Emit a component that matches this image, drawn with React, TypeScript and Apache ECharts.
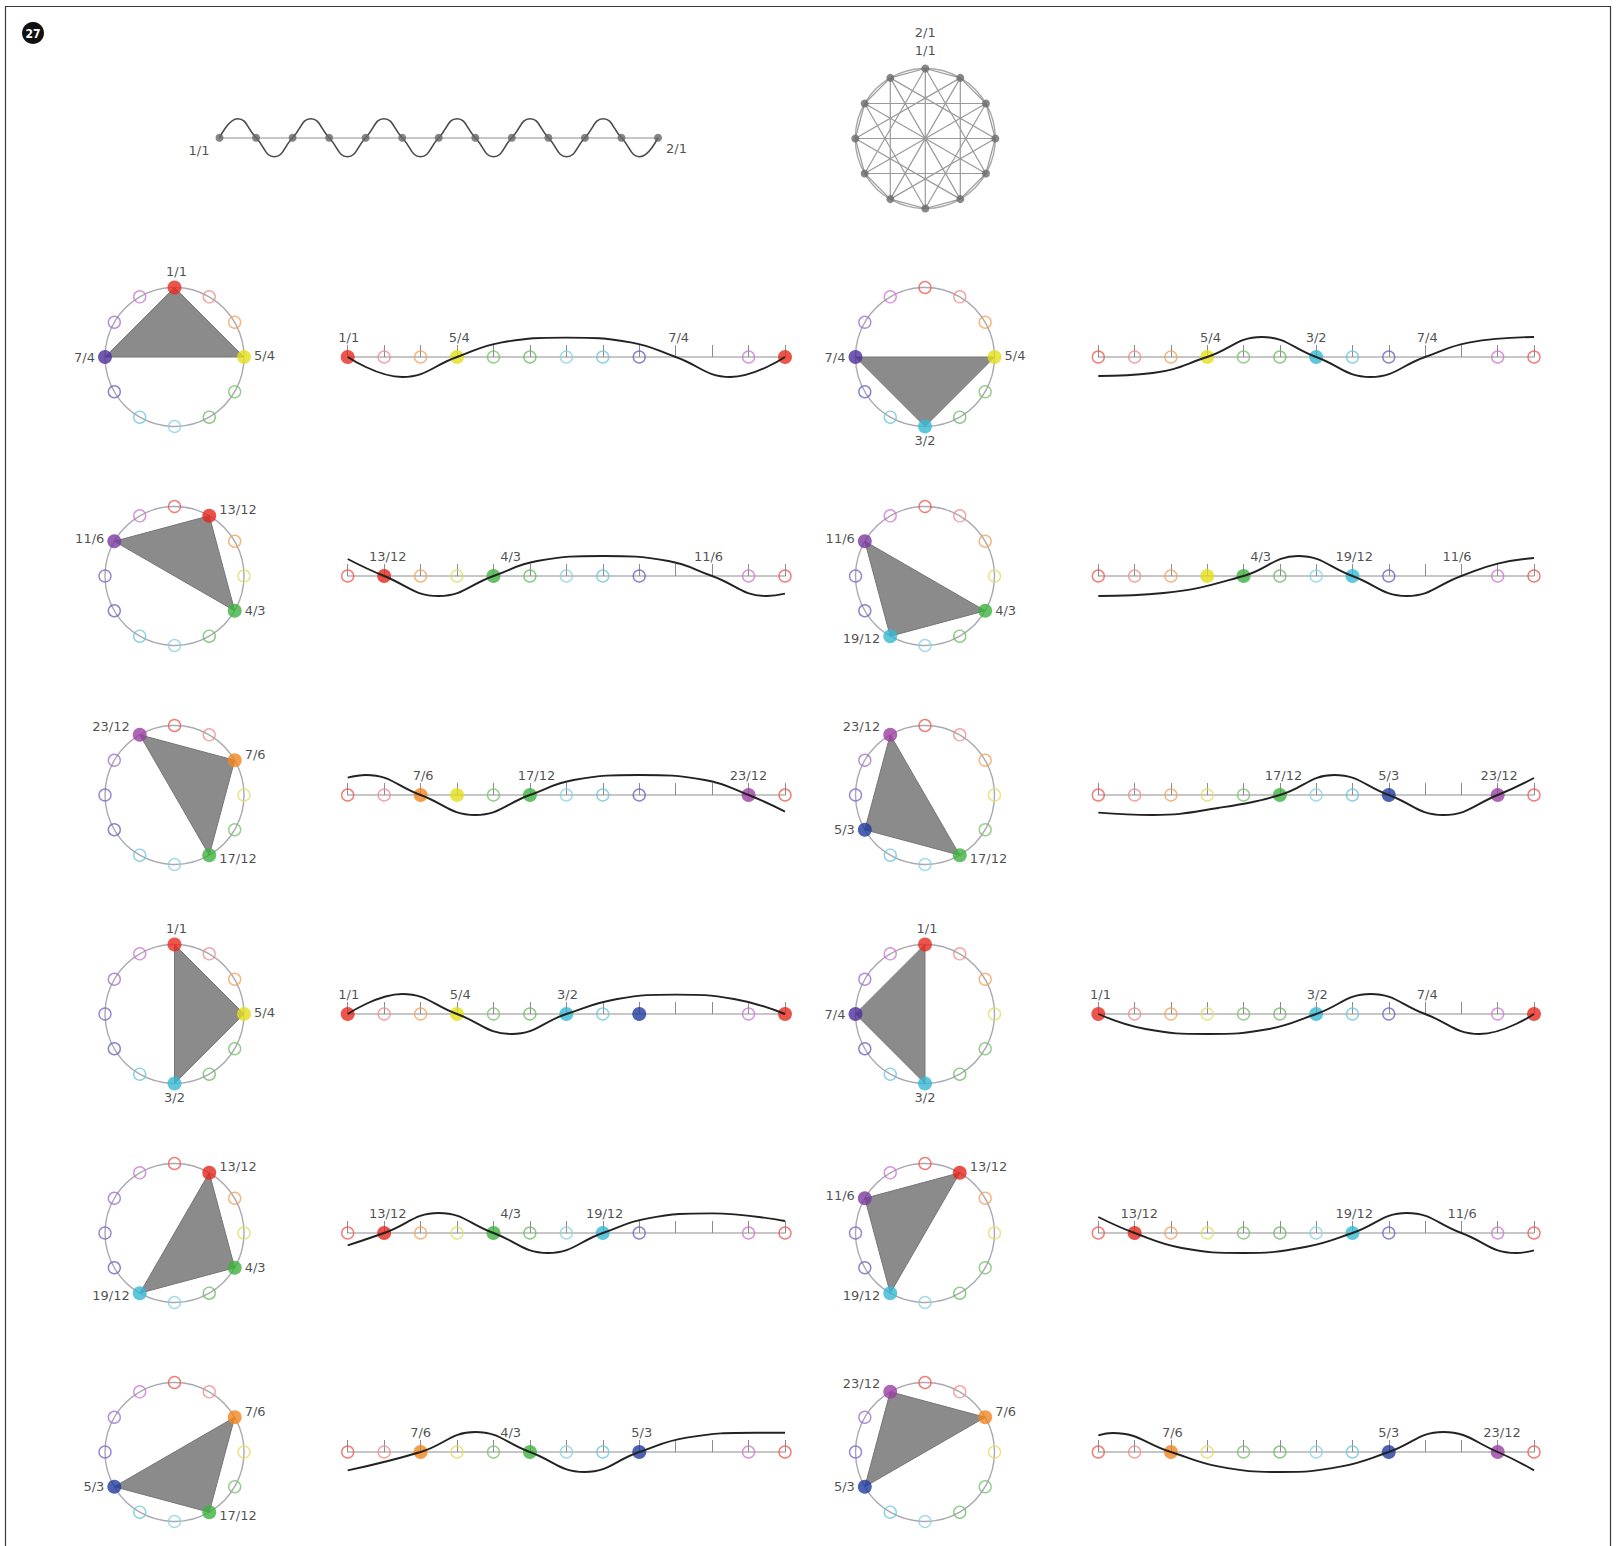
import React, { useEffect, useRef } from 'react';
import * as echarts from 'echarts';

// ---------- data ----------
const RATIOS = ['1/1', '13/12', '7/6', '5/4', '4/3', '17/12', '3/2', '19/12', '5/3', '7/4', '11/6', '23/12', '2/1'];

// outline colours of the hollow markers, one per step of the octave
const RING_COLORS = ['#ef5a52', '#f08c8c', '#f4a35c', '#e2dc66', '#7cc26e', '#6cbc62', '#8ad2e2', '#6cc6dc', '#6a64c6', '#8466c4', '#a372cf', '#cc78d2', '#ef5a52'];
// fill colours of the highlighted notes
const DOT_COLORS = ['#e62a1f', '#e3261c', '#f08421', '#e4df1c', '#3fb23f', '#3fb23f', '#36b9d2', '#36b9d2', '#213b9d', '#502e9b', '#7a3b9e', '#9a3fa1', '#e62a1f'];

const CIRCLE_STEPS = [0, 1, 2, 3, 4, 5, 6, 7, 8, 9, 10, 11];
const LINE_STEPS = [0, 1, 2, 3, 4, 5, 6, 7, 8, 9, 10, 11, 12];
const LINE_RING_STEPS = [0, 1, 2, 3, 4, 5, 6, 7, 8, 11, 12];

// equal-tempered overview: sine through the 13 notes, interval polygon
const TOP_WAVE = [[0, 0], [0.5, 1], [1, 0], [1.5, -1], [2, 0], [2.5, 1], [3, 0], [3.5, -1], [4, 0], [4.5, 1], [5, 0], [5.5, -1], [6, 0], [6.5, 1], [7, 0], [7.5, -1], [8, 0], [8.5, 1], [9, 0], [9.5, -1], [10, 0], [10.5, 1], [11, 0], [11.5, -1], [12, 0]];
const TOP_CHORD_STEPS = [1, 4, 6];

// the twelve triads (panel order: row by row, left then right)
const TRIADS = [[0, 3, 9], [3, 6, 9], [1, 4, 10], [4, 7, 10], [11, 2, 5], [11, 5, 8], [0, 3, 6], [0, 6, 9], [1, 4, 7], [1, 7, 10], [2, 5, 8], [11, 2, 8]];
const LINE_FILLED = [[0, 3, 12], [3, 6], [1, 4], [3, 4, 7], [2, 3, 5, 11], [5, 8, 11], [0, 3, 6, 8, 12], [0, 6, 12], [1, 4, 7], [1, 7], [2, 5, 8], [2, 8, 11]];
const LINE_LABELS: [number, string][][] = [
  [[0.03, '1/1'], [3.06, '5/4'], [9.08, '7/4']],
  [[3.09, '5/4'], [6.0, '3/2'], [9.06, '7/4']],
  [[1.1, '13/12'], [4.47, '4/3'], [9.9, '11/6']],
  [[4.47, '4/3'], [7.05, '19/12'], [9.88, '11/6']],
  [[2.07, '7/6'], [5.18, '17/12'], [11.0, '23/12']],
  [[5.1, '17/12'], [8.0, '5/3'], [11.04, '23/12']],
  [[0.03, '1/1'], [3.09, '5/4'], [6.03, '3/2'], [12.03, '2/1']],
  [[0.06, '1/1'], [6.03, '3/2'], [9.06, '7/4'], [12.06, '2/1']],
  [[1.1, '13/12'], [4.47, '4/3'], [7.05, '19/12']],
  [[1.13, '13/12'], [7.05, '19/12'], [10.02, '11/6']],
  [[2.0, '7/6'], [4.47, '4/3'], [8.07, '5/3']],
  [[2.04, '7/6'], [8.0, '5/3'], [11.12, '23/12']],
];
const WAVES = [
  [[0, 0], [1.5, -1], [3, 0], [4.2, 0.72], [6, 0.97], [7.8, 0.72], [9, 0], [10.5, -1], [12, 0]],
  [[0, -0.95], [1.5, -0.8], [3, 0], [4.5, 1], [6, 0], [7.5, -1], [9, 0], [10.2, 0.72], [12, 1]],
  [[0, 0.85], [1, 0], [2.5, -1], [4, 0], [5.2, 0.75], [7, 1], [8.8, 0.75], [10, 0], [11.5, -1], [12, -0.88]],
  [[0, -1], [1.8, -0.85], [4, 0], [5.5, 1], [7, 0], [8.5, -1], [10, 0], [11, 0.62], [12, 0.9]],
  [[0, 0.87], [0.5, 1], [2, 0], [3.5, -1], [5, 0], [6.2, 0.75], [8, 1], [9.8, 0.75], [11, 0], [12, -0.83]],
  [[0, -0.88], [1.5, -1], [3.3, -0.65], [5, 0], [6.5, 1], [8, 0], [9.5, -1], [11, 0], [12, 0.85]],
  [[0, 0], [1.5, 1], [3, 0], [4.5, -1], [6, 0], [7.4, 0.75], [9, 0.97], [10.6, 0.75], [12, 0]],
  [[0, 0], [1.3, -0.75], [3, -1], [4.7, -0.75], [6, 0], [7.5, 1], [9, 0], [10.5, -1], [12, 0]],
  [[0, -0.62], [1, 0], [2.5, 1], [4, 0], [5.5, -1], [7, 0], [8.2, 0.72], [10, 0.98], [12, 0.6]],
  [[0, 0.8], [1, 0], [2.3, -0.75], [4, -1], [5.7, -0.7], [7, 0], [8.5, 1], [10, 0], [11.5, -1], [12, -0.87]],
  [[0, -0.92], [2, 0], [3.5, 1], [5, 0], [6.5, -1], [8, 0], [9.3, 0.72], [11.2, 0.96], [12, 0.96]],
  [[0, 0.83], [0.4, 0.95], [2, 0], [3.3, -0.72], [5, -1], [6.7, -0.72], [8, 0], [9.5, 1], [11, 0], [12, -0.92]],
];

// ---------- layout ----------
const W = 1617;
const H = 1546;
const ROW_Y = [357, 576, 795, 1014, 1233, 1452];
const CIRCLE_X = [174.5, 925];
const CIRCLE_R = 69.5;
const LINE_LEFT = [347.7, 1098.3];
const LINE_WIDTH = [437.3, 435.7];
const WAVE_AMP = 20;

// where a note's name sits around the circle
const LABEL_SIDE = ['top', 'right', 'right', 'right', 'right', 'right', 'bottom', 'left', 'left', 'left', 'left', 'left'];
const LABEL_DY = [0, -6, -6, -2, 0, 3, 0, 2, 0, 0, -3, -8];

const FONT = 'DejaVu Sans';
const TEXT_COLOR = '#1e1e1e';

function buildOption() {
  const grid: any[] = [];
  const xAxis: any[] = [];
  const yAxis: any[] = [];
  const polar: any[] = [];
  const angleAxis: any[] = [];
  const radiusAxis: any[] = [];
  const series: any[] = [];

  const textStyle = { fontFamily: FONT, fontSize: 13, color: TEXT_COLOR };

  const addPolar = (cx: number, cy: number, r: number, lineColor: string) => {
    const idx = polar.length;
    polar.push({ center: [cx, cy], radius: r });
    angleAxis.push({
      polarIndex: idx, type: 'value', min: 0, max: 12, startAngle: 90, clockwise: true,
      axisLine: { lineStyle: { color: lineColor, width: 1.4 } },
      axisTick: { show: false }, axisLabel: { show: false }, splitLine: { show: false },
    });
    radiusAxis.push({ polarIndex: idx, type: 'value', min: 0, max: 1, show: false });
    return idx;
  };

  const addGrid = (left: number, axisY: number, width: number, amp: number, showTicks: boolean) => {
    const idx = grid.length;
    grid.push({ left, top: axisY - amp, width, height: amp * 2 });
    xAxis.push({
      gridIndex: idx, type: 'value', min: 0, max: 12, interval: 1,
      axisLine: { onZero: true, lineStyle: { color: '#b4b4b4', width: 1.5 } },
      axisTick: { show: showTicks, inside: true, length: 12, lineStyle: { color: '#8c8c8c', width: 1 } },
      axisLabel: { show: false }, splitLine: { show: false },
    });
    yAxis.push({ gridIndex: idx, type: 'value', min: -1, max: 1, show: false });
    return idx;
  };

  // ----- equal-tempered sine -----
  const g0 = addGrid(219.5, 137.7, 438.5, 19, false);
  series.push({
    type: 'line', xAxisIndex: g0, yAxisIndex: g0, data: TOP_WAVE, smooth: true, symbol: 'none',
    clip: false, lineStyle: { color: '#4a4a4a', width: 1.6 }, z: 4, silent: true,
  });
  series.push({
    type: 'scatter', xAxisIndex: g0, yAxisIndex: g0, symbolSize: 8, z: 5, silent: true,
    itemStyle: { color: '#676767' },
    data: LINE_STEPS.map((s) => {
      const item: any = { value: [s, 0] };
      if (s === 0) item.label = { show: true, position: 'left', distance: 6, offset: [0, 13], formatter: RATIOS[0], ...textStyle };
      if (s === 12) item.label = { show: true, position: 'right', distance: 4, offset: [0, 11], formatter: RATIOS[12], ...textStyle };
      return item;
    }),
  });

  // ----- interval polygon -----
  const p0 = addPolar(925.3, 138.5, 70, '#a8a8a8');
  series.push({
    type: 'custom', coordinateSystem: 'polar', polarIndex: p0, data: [[0, 0]], z: 2, silent: true,
    renderItem: (_params: any, api: any) => {
      const children: any[] = [];
      TOP_CHORD_STEPS.forEach((step) => {
        const count = step === 6 ? 6 : 12;
        for (let a = 0; a < count; a++) {
          const p = api.coord([1, a]);
          const q = api.coord([1, (a + step) % 12]);
          children.push({ type: 'line', shape: { x1: p[0], y1: p[1], x2: q[0], y2: q[1] }, style: { stroke: '#9a9a9a', lineWidth: 1.2 } });
        }
      });
      return { type: 'group', children };
    },
  });
  series.push({
    type: 'scatter', coordinateSystem: 'polar', polarIndex: p0, symbolSize: 8, z: 4, silent: true,
    itemStyle: { color: '#6a6a6a' },
    data: CIRCLE_STEPS.map((s) => {
      const item: any = { value: [1, s] };
      if (s === 0) item.label = { show: true, position: 'top', distance: 5, formatter: RATIOS[12] + '\n' + RATIOS[0], lineHeight: 18, ...textStyle };
      return item;
    }),
  });

  // ----- triad panels -----
  TRIADS.forEach((triad, k) => {
    const row = Math.floor(k / 2);
    const col = k % 2;
    const cy = ROW_Y[row];

    // circle
    const pi = addPolar(CIRCLE_X[col], cy, CIRCLE_R, '#a9a9b2');
    series.push({
      type: 'custom', coordinateSystem: 'polar', polarIndex: pi, data: [[0, 0]], z: 2, silent: true,
      renderItem: (_params: any, api: any) => ({
        type: 'polygon',
        shape: { points: triad.map((s) => api.coord([1, s])) },
        style: { fill: '#8b8b8b', stroke: '#767676', lineWidth: 1 },
      }),
    });
    series.push({
      type: 'scatter', coordinateSystem: 'polar', polarIndex: pi, symbolSize: 12, z: 3, silent: true,
      data: CIRCLE_STEPS.filter((s) => !triad.includes(s)).map((s) => ({
        value: [1, s],
        itemStyle: { color: 'rgba(0,0,0,0)', borderColor: RING_COLORS[s], borderWidth: 1.4 },
      })),
    });
    series.push({
      type: 'scatter', coordinateSystem: 'polar', polarIndex: pi, symbolSize: 14, z: 4, silent: true,
      data: triad.map((s) => ({
        value: [1, s],
        itemStyle: { color: DOT_COLORS[s] },
        label: {
          show: true, position: LABEL_SIDE[s], distance: LABEL_SIDE[s] === 'bottom' ? 0 : 3,
          offset: [LABEL_SIDE[s] === 'top' ? 2 : 0, LABEL_DY[s]], formatter: RATIOS[s], ...textStyle,
        },
      })),
    });

    // line with wave
    const gi = addGrid(LINE_LEFT[col], cy, LINE_WIDTH[col], WAVE_AMP, true);
    const filled = LINE_FILLED[k];
    series.push({
      type: 'scatter', xAxisIndex: gi, yAxisIndex: gi, symbolSize: 12, z: 3, silent: true,
      data: LINE_RING_STEPS.filter((s) => !filled.includes(s)).map((s) => ({
        value: [s, 0],
        itemStyle: { color: 'rgba(0,0,0,0)', borderColor: RING_COLORS[s], borderWidth: 1.4 },
      })),
    });
    series.push({
      type: 'scatter', xAxisIndex: gi, yAxisIndex: gi, symbolSize: 14, z: 4, silent: true,
      data: filled.map((s) => ({ value: [s, 0], itemStyle: { color: DOT_COLORS[s] } })),
    });
    series.push({
      type: 'line', xAxisIndex: gi, yAxisIndex: gi, data: WAVES[k], smooth: 0.45, symbol: 'none',
      clip: false, lineStyle: { color: '#222222', width: 1.9 }, z: 5, silent: true,
    });
    series.push({
      type: 'scatter', xAxisIndex: gi, yAxisIndex: gi, symbolSize: 1, z: 6, silent: true,
      itemStyle: { color: 'rgba(0,0,0,0)' },
      data: LINE_LABELS[k].map(([pos, text]) => ({
        value: [pos, 0],
        label: { show: true, position: 'top', distance: 13, formatter: text, ...textStyle },
      })),
    });
  });

  return {
    animation: false,
    backgroundColor: '#ffffff',
    grid, xAxis, yAxis, polar, angleAxis, radiusAxis, series,
    graphic: [
      { type: 'rect', shape: { x: 5.5, y: 6.5, width: 1605, height: 1570 }, style: { fill: 'none', stroke: '#3a3a3a', lineWidth: 1.2 }, silent: true },
      { type: 'circle', shape: { cx: 33, cy: 33, r: 11 }, style: { fill: '#111111' }, silent: true },
      {
        type: 'text', x: 33, y: 33.5, silent: true,
        style: { text: '27', fill: '#ffffff', font: 'bold 12px "DejaVu Sans Condensed", "DejaVu Sans", sans-serif', align: 'center', verticalAlign: 'middle' },
      },
    ],
  };
}

export default function App() {
  const ref = useRef<HTMLDivElement>(null);
  useEffect(() => {
    if (!ref.current) return;
    const chart = echarts.init(ref.current, undefined, { renderer: 'svg' });
    chart.setOption(buildOption() as any);
    return () => chart.dispose();
  }, []);
  return (
    <div
      ref={ref}
      style={{ position: 'absolute', left: 0, top: 0, width: W, height: H, background: '#ffffff' }}
    />
  );
}
